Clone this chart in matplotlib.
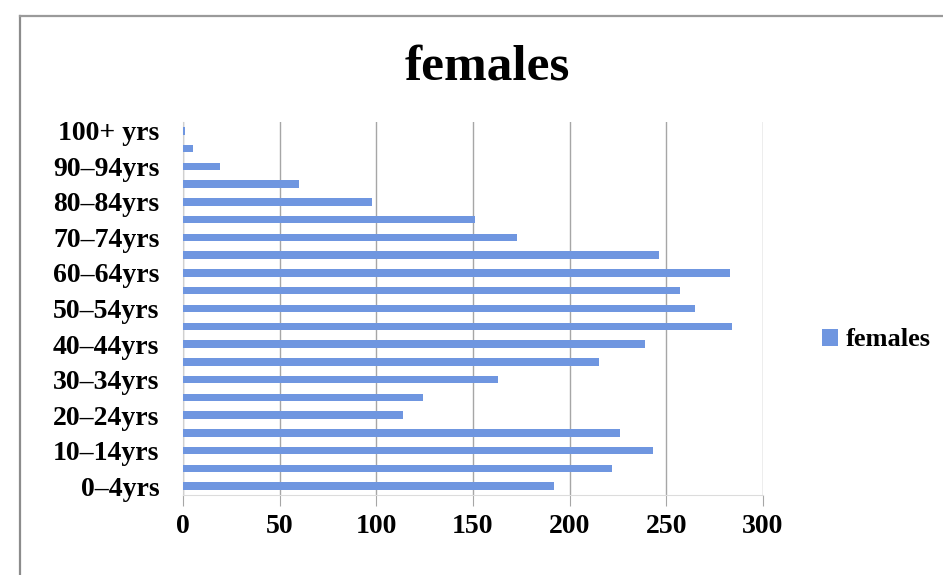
import matplotlib
matplotlib.use("Agg")
import matplotlib.pyplot as plt
from matplotlib.lines import Line2D
from matplotlib.patches import Patch

# female counts per 5-year age band, youngest first
age_bands = ["0–4yrs", "5–9yrs", "10–14yrs", "15–19yrs", "20–24yrs", "25–29yrs",
             "30–34yrs", "35–39yrs", "40–44yrs", "45–49yrs", "50–54yrs", "55–59yrs",
             "60–64yrs", "65–69yrs", "70–74yrs", "75–79yrs", "80–84yrs", "85–89yrs",
             "90–94yrs", "95–99yrs", "100+ yrs"]
females = [192, 222, 243, 226, 114, 124, 163, 215, 239, 284, 265,
           257, 283, 246, 173, 151, 98, 60, 19, 5, 1]
x_ticks = [0, 50, 100, 150, 200, 250, 300]

BAR = "#6f96e0"
GRID = "#a6a6a6"
FONT = ["Liberation Serif", "DejaVu Serif"]

plt.rcParams["font.family"] = FONT
plt.rcParams["font.weight"] = "bold"

W, H = 943, 575
fig = plt.figure(figsize=(W / 100, H / 100), dpi=100)
ax = fig.add_axes([183 / W, 1 - 495 / H, 580 / W, 373 / H])

pos = list(range(len(age_bands)))
ax.barh(pos, females, height=0.42, color=BAR, label="females", zorder=3)

ax.set_xlim(0, 300)
ax.set_ylim(-0.5, len(age_bands) - 0.5)
ax.set_xticks(x_ticks)
ax.set_xticklabels([str(t) for t in x_ticks], fontsize=20, fontweight="bold")
ax.set_yticks(pos[::2])
ax.set_yticklabels(age_bands[::2], fontsize=20, fontweight="bold")
ax.tick_params(axis="x", length=8, color=GRID, pad=6)
ax.tick_params(axis="y", length=0, pad=17)
ax.grid(axis="x", color=GRID, linewidth=1.0, zorder=0)

for side in ("top", "right"):
    ax.spines[side].set_visible(False)
ax.spines["left"].set_color("#d0d0d0")
ax.spines["bottom"].set_color("#dcdcdc")

fig.text(487 / W, 1 - 68 / H, "females", fontsize=37, fontweight="bold",
         ha="center", va="center")

handles = [Patch(facecolor=BAR, label="females")]
fig.legend(handles=handles, loc="center left", bbox_to_anchor=(822 / W, 1 - 340 / H),
           frameon=False, fontsize=19, handlelength=0.6, handleheight=0.6,
           handletextpad=0.3, borderaxespad=0, borderpad=0)

# outer chart frame (left and top edges)
fig.add_artist(Line2D([20 / W, 20 / W], [1 - 16 / H, 0], color="#8c8c8c", linewidth=1.6))
fig.add_artist(Line2D([20 / W, 1], [1 - 16 / H, 1 - 16 / H], color="#9a9a9a", linewidth=1.6))

fig.savefig("out.png", dpi=100)
